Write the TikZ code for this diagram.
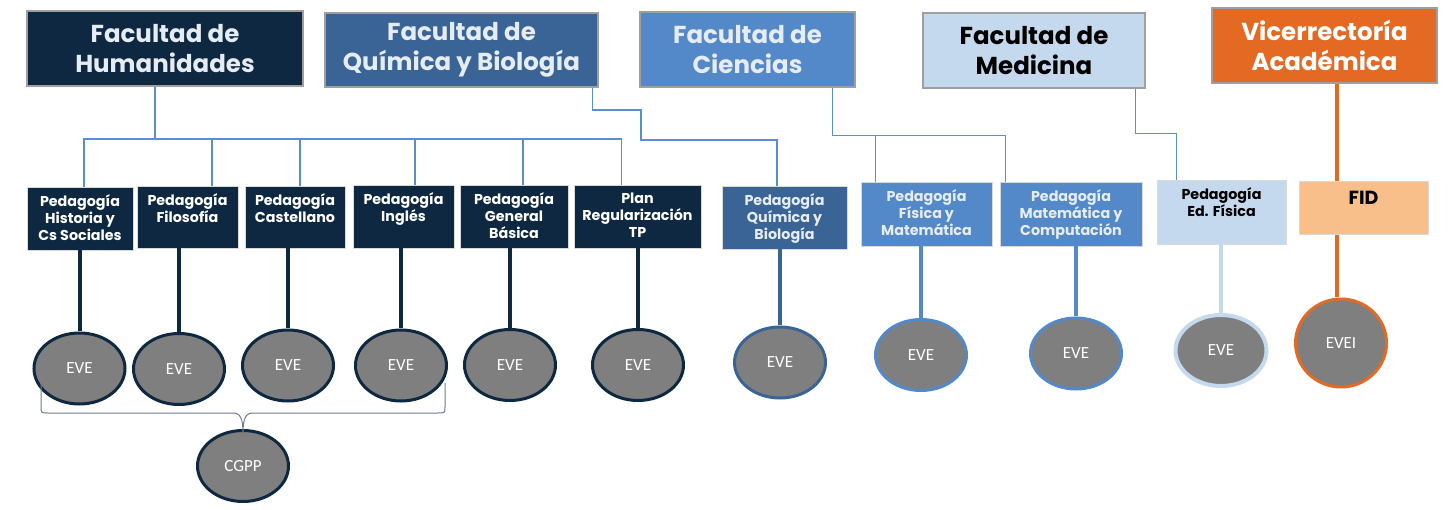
\documentclass[tikz,border=0pt]{standalone}
\usepackage{fontspec}
\usepackage{tikz}
\usetikzlibrary{shapes,arrows,positioning}
\newfontfamily\gothic{Poppins}
\newfontfamily\calib{Carlito}
\definecolor{navy}{HTML}{0E2841}
\definecolor{qbblue}{HTML}{3A6496}
\definecolor{ciblue}{HTML}{5389C8}
\definecolor{medblue}{HTML}{C5D9EE}
\definecolor{orng}{HTML}{E46A24}
\definecolor{fidor}{HTML}{F8BF8B}
\definecolor{treeblue}{HTML}{5A8ED0}
\definecolor{evegray}{HTML}{7F7F7F}
\definecolor{topwhite}{HTML}{E6ECF3}
\definecolor{bracegray}{HTML}{6C7C90}

\begin{document}
\begin{tikzpicture}[x=1pt,y=-1pt,
			fac/.style={draw=gray!75,line width=1.5pt,align=center,inner sep=0pt,font=\gothic\bfseries\fontsize{24.5}{30}\selectfont},
			ped/.style={draw=white!70!gray,line width=.6pt,inner sep=0pt},
			pedtxt/.style={anchor=north,align=center,inner sep=0pt,yshift=-8pt,font=\gothic\bfseries\fontsize{14.3}{17}\selectfont},
			eve/.style={ellipse,fill=evegray,line width=3pt,minimum width=91pt,minimum height=71pt,inner sep=0pt,text=white,font=\calib\fontsize{17}{19}\selectfont},
			tree/.style={treeblue,line width=1.2pt},
			stem/.style={line width=4pt}]
			\useasboundingbox[fill=white] (0,0) rectangle (1450,510);
			\node[fac,fill=navy,text=topwhite,minimum width=276pt,minimum height=75pt] (hum) at (165,48.5) {Facultad de\\Humanidades};
			\node[fac,fill=qbblue,text=topwhite,minimum width=273pt,minimum height=74pt] (qyb) at (461.5,50) {Facultad de\\Química y Biología};
			\node[fac,fill=ciblue,text=topwhite,minimum width=215pt,minimum height=75pt] (cie) at (747.5,49.5) {Facultad de\\Ciencias};
			\node[fac,fill=medblue,text=black,minimum width=222pt,minimum height=75pt] (med) at (1034,50.5) {Facultad de\\Medicina};
			\node[fac,fill=orng,text=white,minimum width=225pt,minimum height=75pt] (vra) at (1324.5,45.5) {Vicerrectoría\\Académica};
			\node[ped,fill=navy,minimum width=106pt,minimum height=63pt,label={[pedtxt,text=white]north:Pedagogía\\Historia y\\Cs Sociales}] (his) at (80,218.5) {};
			\node[ped,fill=navy,minimum width=101pt,minimum height=62pt,label={[pedtxt,text=white]north:Pedagogía\\Filosofía}] (fil) at (187.5,217) {};
			\node[ped,fill=navy,minimum width=100pt,minimum height=62pt,label={[pedtxt,text=white]north:Pedagogía\\Castellano}] (cas) at (295,217) {};
			\node[ped,fill=navy,minimum width=101pt,minimum height=63pt,label={[pedtxt,text=white]north:Pedagogía\\Inglés}] (ing) at (403.5,216.5) {};
			\node[ped,fill=navy,minimum width=108pt,minimum height=63pt,label={[pedtxt,text=white]north:Pedagogía\\General\\Básica}] (gba) at (514,216.5) {};
			\node[ped,fill=navy,minimum width=127pt,minimum height=63pt,label={[pedtxt,text=white]north:Plan\\Regularización\\TP}] (plan) at (637.5,216.5) {};
			\node[ped,fill=qbblue,minimum width=125pt,minimum height=63pt,label={[pedtxt,text=topwhite]north:Pedagogía\\Química y\\Biología}] (pqb) at (784.5,217.5) {};
			\node[ped,fill=ciblue,minimum width=131pt,minimum height=64pt,label={[pedtxt,text=topwhite]north:Pedagogía\\Física y\\Matemática}] (pfm) at (926.5,214) {};
			\node[ped,fill=ciblue,minimum width=142pt,minimum height=64pt,label={[pedtxt,text=topwhite]north:Pedagogía\\Matemática y\\Computación}] (pmc) at (1071,214) {};
			\node[ped,fill=medblue,minimum width=129pt,minimum height=64pt,label={[pedtxt,text=black]north:Pedagogía\\Ed. Física}] (pef) at (1221.5,212) {};
			\coordinate (hbus) at (155,139);
			\draw[tree] (hum.south -| hbus) -- (hbus);
			\foreach \n/\d in {his/4,fil/24.5,cas/5,ing/11.5,gba/9,plan/-16} \draw[tree] ([xshift=\d]\n.north) |- (hbus);
			\draw[tree] ([xshift=-6]qyb.south east) |- (641,110) -- (641,140) -| ([xshift=-7.5]pqb.north);
			\draw[tree] ([xshift=-23]cie.south east) -- ++(0,48) -| ([xshift=6]pmc.north west);
			\draw[tree] ([xshift=15]pfm.north west) -- ++(0,-47);
			\draw[tree] ([xshift=-10]med.south east) -- ++(0,45) -| ([xshift=20]pef.north west);
			\foreach \n/\x/\y in {1/79.5/368.5,2/179/369,3/288/365.5,4/401/365.5,5/510/365,6/638/365} \node[eve,draw=navy] (c\n) at (\x,\y) {EVE};
			\node[eve,draw=qbblue] (c7) at (780,362.5) {EVE};
			\node[eve,draw=ciblue] (c8) at (921,355) {EVE};
			\node[eve,draw=ciblue] (c9) at (1076,353.5) {EVE};
			\node[eve,draw=medblue,line width=4pt] (c10) at (1221,350.5) {EVE};
			\node[eve,draw=orng,minimum height=88pt] (c11) at (1341,343) {EVEI};
			\node[eve,draw=navy] (cgpp) at (243,466) {CGPP};
			\foreach \c/\b in {c1/his,c2/fil,c3/cas,c4/ing,c5/gba,c6/plan} \draw[stem,navy] (\c.north) -- (\c.north |- \b.south);
			\draw[stem,qbblue] (c7.north) -- (c7.north |- pqb.south);
			\draw[stem,ciblue] (c8.north) -- (c8.north |- pfm.south);
			\draw[stem,ciblue] (c9.north) -- (c9.north |- pmc.south);
			\draw[stem,medblue] (c10.north) -- (c10.north |- pef.south);
			\draw[stem,orng] ([xshift=-4]c11.north) -- ([xshift=-4]c11.north |- vra.south);
			\node[ped,fill=fidor,minimum width=129pt,minimum height=53pt,label={[pedtxt,text=black,yshift=-2pt,font=\gothic\bfseries\fontsize{19}{22}\selectfont]north:FID}] (fid) at (1363.5,207.5) {};
			\draw[bracegray,line width=1pt] (41,383) -- (41,406) .. controls (41,413) and (41,413) .. (48,413) -- (233,413) .. controls (240,413) and (243,418) .. (243,433) .. controls (243,418) and (246,413) .. (253,413) -- (438,413) .. controls (445,413) and (445,413) .. (445,406) -- (445,383);
		\end{tikzpicture}
\end{document}
